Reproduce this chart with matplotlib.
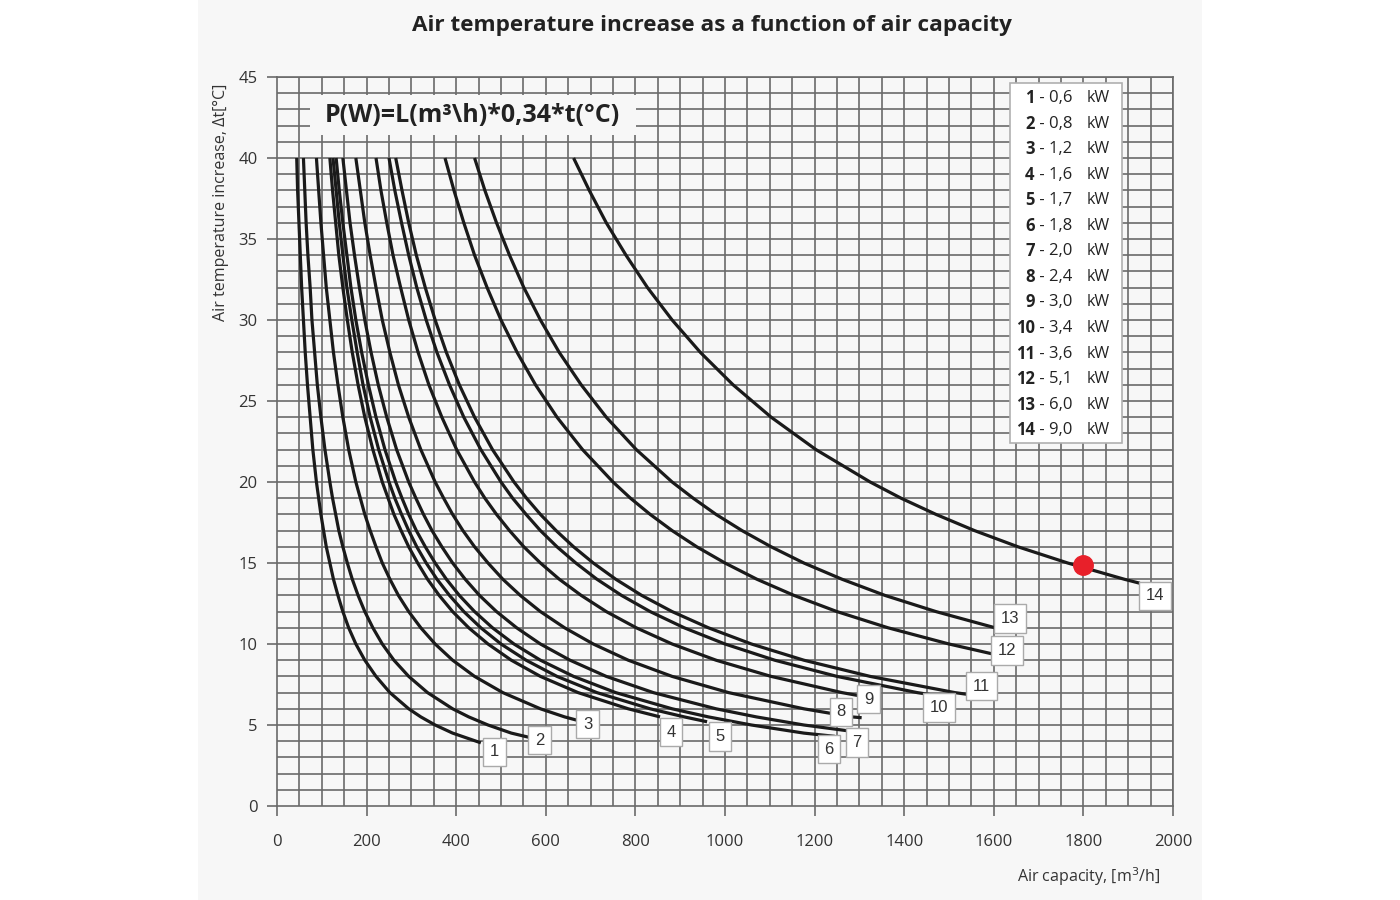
import matplotlib.pyplot as plt
from matplotlib.patches import Rectangle

# temperature levels (deg C) at which the curves were read
t_levels = [40, 38, 36, 34, 32, 30, 28, 26, 24, 22, 20, 19, 18, 17, 16, 15, 14, 13, 12, 11,
            10, 9, 8, 7, 6, 5.5, 5, 4.5]

# air capacity (m3/h) at the levels above, plus the curve end point
L1 = [44, 46, 49, 52, 55, 59, 63, 68, 74, 80, 88, 93, 98, 104, 110, 118, 126, 136, 147, 160,
      176, 196, 221, 252, 294, 321, 353, 392]
L2 = [59, 62, 65, 69, 74, 78, 84, 90, 98, 107, 118, 124, 131, 138, 147, 157, 168, 181, 196, 214,
      235, 261, 294, 336, 392, 428, 471, 523]
L3 = [88, 93, 98, 104, 110, 118, 126, 136, 147, 160, 176, 186, 196, 208, 221, 235, 252, 271, 294,
      321, 353, 392, 441, 504, 588, 642]
L4 = [118, 124, 131, 138, 147, 157, 168, 181, 196, 214, 235, 248, 261, 277, 294, 314, 336, 362,
      392, 428, 471, 523, 588, 672, 784]
L5 = [125, 132, 139, 147, 156, 167, 179, 192, 208, 227, 250, 263, 278, 294, 312, 333, 357, 385,
      417, 455, 500, 556, 625, 714, 833, 909]
L6 = [132, 139, 147, 156, 165, 176, 189, 204, 221, 241, 265, 279, 294, 311, 331, 353, 378, 407,
      441, 481, 529, 588, 662, 756, 882, 963, 1059, 1176]
L7 = [147, 155, 163, 173, 184, 196, 210, 226, 245, 267, 294, 310, 327, 346, 368, 392, 420, 452,
      490, 535, 588, 654, 735, 840, 980, 1070, 1176]
L8 = [176, 186, 196, 208, 221, 235, 252, 271, 294, 321, 353, 372, 392, 415, 441, 471, 504, 543,
      588, 642, 706, 784, 882, 1008, 1176, 1283]
L9 = [221, 232, 245, 259, 276, 294, 315, 339, 368, 401, 441, 464, 490, 519, 551, 588, 630, 679,
      735, 802, 882, 980, 1103, 1261]
L10 = [250, 263, 278, 294, 312, 333, 357, 385, 417, 455, 500, 526, 556, 588, 625, 667, 714, 769,
       833, 909, 1000, 1111, 1250, 1429]
L11 = [265, 279, 294, 311, 331, 353, 378, 407, 441, 481, 529, 557, 588, 623, 662, 706, 756, 814,
       882, 963, 1059, 1176, 1324, 1513]
L12 = [375, 395, 417, 441, 469, 500, 536, 577, 625, 682, 750, 789, 833, 882, 937, 1000, 1071,
       1154, 1250, 1364, 1500]
L13 = [441, 464, 490, 519, 551, 588, 630, 679, 735, 802, 882, 929, 980, 1038, 1103, 1176, 1261,
       1357, 1471]
L14 = [662, 697, 735, 779, 827, 882, 945, 1018, 1103, 1203, 1324, 1393, 1471, 1557, 1654, 1765,
       1891]

curves = [L1, L2, L3, L4, L5, L6, L7, L8, L9, L10, L11, L12, L13, L14]
end_L = [455, 561, 669, 855, 960, 1245, 1272, 1305, 1301, 1464, 1539, 1595, 1603, 1926]
end_t = [3.9, 4.25, 5.3, 5.5, 5.2, 4.3, 4.65, 5.45, 6.8, 6.85, 6.9, 9.4, 11.0, 13.75]

# curve number labels (box centre positions in data units)
label_x = [485, 586, 693, 879, 989, 1232, 1295, 1259, 1321, 1478, 1573, 1629, 1636, 1960]
label_y = [3.35, 4.07, 5.06, 4.55, 4.28, 3.5, 3.93, 5.82, 6.6, 6.09, 7.4, 9.59, 11.58, 12.98]

powers = ['0,6', '0,8', '1,2', '1,6', '1,7', '1,8', '2,0', '2,4', '3,0', '3,4', '3,6', '5,1', '6,0', '9,0']

point_L, point_t = 1800, 14.85

fig = plt.figure(figsize=(14, 9), dpi=100)
fig.patch.set_facecolor('white')
fig.patches.append(Rectangle((198 / 1400, 0), 1004 / 1400, 1, transform=fig.transFigure,
                             facecolor='#f7f7f7', edgecolor='none', zorder=-10))

ax = fig.add_axes([277 / 1400, 1 - 806 / 900, 896 / 1400, 729 / 900])
ax.set_facecolor('#f7f7f7')
ax.set_xlim(0, 2000)
ax.set_ylim(0, 45)

# grid
for gx in range(50, 2001, 50):
    ax.axvline(gx, color='#6a6a6a', lw=1.2, zorder=1)
for gy in range(1, 46):
    ax.axhline(gy, color='#6a6a6a', lw=1.2, zorder=1)

for s in ax.spines.values():
    s.set_color('#6a6a6a')
    s.set_linewidth(1.2)

ax.set_xticks(range(0, 2001, 200))
ax.set_yticks(range(0, 46, 5))
ax.tick_params(axis='both', colors='#6a6a6a', length=7, width=1.2, labelcolor='#333333',
               labelsize=12)
ax.tick_params(axis='x', pad=13)
ax.tick_params(axis='y', pad=7)
for lab in ax.get_xticklabels() + ax.get_yticklabels():
    lab.set_fontfamily('Open Sans')

for i, Ls in enumerate(curves):
    xs = Ls + [end_L[i]]
    ys = t_levels[:len(Ls)] + [end_t[i]]
    ax.plot(xs, ys, color='#1a1a1a', lw=2.3, solid_capstyle='butt', solid_joinstyle='round',
            zorder=3)

for i in range(14):
    ax.text(label_x[i], label_y[i], str(i + 1), ha='center', va='center', fontsize=12,
            family='Liberation Sans', color='#333333', zorder=5,
            bbox=dict(boxstyle='square,pad=0.4', facecolor='white', edgecolor='#aaaaaa', lw=1))

ax.plot([point_L], [point_t], 'o', color='#e8202a', markersize=14, zorder=6)

# formula box
ax.add_patch(Rectangle((74, 41.4), 727, 2.5, facecolor='#f7f7f7', edgecolor='none', zorder=4))
ax.text(437, 42.65, r'P(W)=L(m³\h)*0,34*t(°C)', ha='center', va='center', fontsize=18,
        fontweight='bold', family='Open Sans', color='#222222', zorder=5)

# legend box
ax.add_patch(Rectangle((1636, 22.4), 250, 22.2, facecolor='white', edgecolor='#b0b0b0',
                       lw=1.2, zorder=4))
for i in range(14):
    yy = 43.7 - i * 1.577
    ax.text(1691, yy, str(i + 1), ha='right', va='center', fontsize=12, fontweight='bold',
            family='Open Sans', color='#222222', zorder=5)
    ax.text(1693, yy, ' - ' + powers[i], ha='left', va='center', fontsize=12,
            family='Open Sans', color='#222222', zorder=5)
    ax.text(1808, yy, 'kW', ha='left', va='center', fontsize=11.5,
            family='Open Sans', color='#222222', zorder=5)

fig.text(712 / 1400, 1 - 26 / 900, 'Air temperature increase as a function of air capacity',
         ha='center', va='center', fontsize=16.2, fontweight='bold', family='Open Sans',
         color='#222222')
fig.text(221 / 1400, 1 - 202 / 900, 'Air temperature increase, Δt[°C]', rotation=90,
         ha='center', va='center', fontsize=11.5, family='Open Sans', color='#333333')
fig.text(1160 / 1400, 1 - 877 / 900, r'Air capacity, [m$^3$/h]', ha='right', va='center',
         fontsize=11.5, family='Open Sans', color='#333333')

fig.savefig('out.png', dpi=100, facecolor=fig.get_facecolor())
